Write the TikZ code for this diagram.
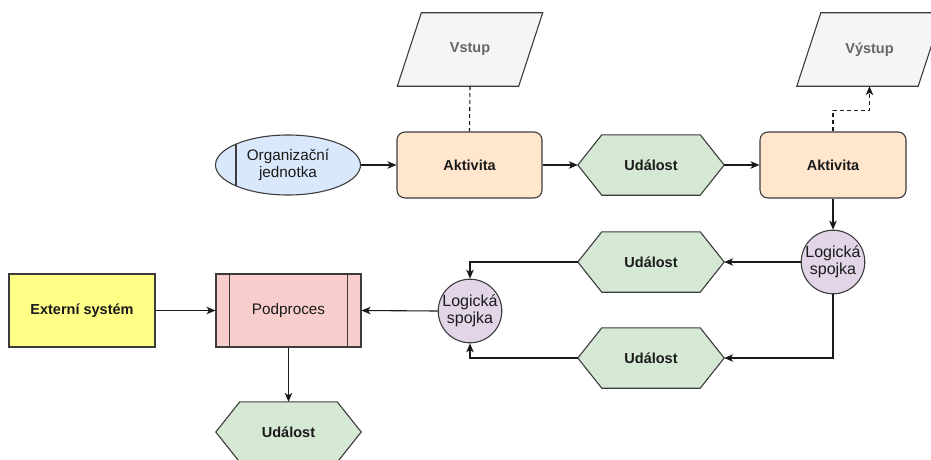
\documentclass[tikz,border=0pt]{standalone}
\usepackage{fontspec}
\setmainfont{Liberation Sans}
\usetikzlibrary{arrows.meta,backgrounds,shapes.geometric}

\definecolor{edge}{HTML}{3C3C3C}
\definecolor{txt}{HTML}{1A1A1A}
\definecolor{evtfill}{HTML}{D5E8D4}
\definecolor{actfill}{HTML}{FFE6CC}
\definecolor{orgfill}{HTML}{DAE8FC}
\definecolor{joinfill}{HTML}{E1D5E7}
\definecolor{subfill}{HTML}{F8CECC}
\definecolor{extfill}{HTML}{FFFF88}
\definecolor{iofill}{HTML}{F5F5F5}
\definecolor{iotxt}{HTML}{666666}

\tikzset{
  base/.style={inner sep=0pt, align=center, text=txt,
    font=\fontsize{15.3}{17}\selectfont},
  bold/.style={font=\fontsize{14.5}{17}\selectfont\bfseries},
  activity/.style={base, bold, draw=edge, line width=1.1pt, fill=actfill,
    rounded corners=8pt, minimum width=145pt, minimum height=66pt},
  evtlabel/.style={base, bold, minimum width=146pt, minimum height=60pt},
  evtshape/.style={draw=edge, line width=1.1pt, fill=evtfill},
  iolabel/.style={base, bold, text=iotxt, minimum width=97pt, minimum height=73pt},
  ioshape/.style={draw=edge, line width=1.1pt, fill=iofill},
  orgunit/.style={base, ellipse, draw=edge, line width=1.1pt, fill=orgfill,
    minimum width=145pt, minimum height=60pt},
  junction/.style={base, circle, draw=edge, line width=1.1pt, fill=joinfill,
    minimum size=62pt, font=\fontsize{16}{17}\selectfont},
  subproc/.style={base, draw=edge, line width=1.1pt, fill=subfill,
    minimum width=145pt, minimum height=73pt},
  extsys/.style={base, bold, draw=edge, line width=1.1pt, fill=extfill,
    minimum width=146pt, minimum height=73pt},
  flow/.style={draw=txt, line width=1.1pt,
    -{Stealth[length=9pt, width=7.5pt, inset=2.5pt]}},
  dataflow/.style={draw=txt, line width=1.1pt, dash pattern=on 4pt off 3pt},
}

\begin{document}
\begin{tikzpicture}[x=1pt, y=-1pt]
\useasboundingbox (0,0) rectangle (931,460);

% input / output documents
\node[iolabel] (vstup) at (470,49.5) {Vstup};
\node[iolabel] (vystup) at (869.5,49.5) {Výstup};

% top row
\node[orgunit] (org) at (288,165) {Organizační\\jednotka};
\node[activity] (akt1) at (469.5,165) {Aktivita};
\node[evtlabel] (ev1) at (651,165) {Událost};
\node[activity, minimum width=146pt] (akt2) at (833,165) {Aktivita};

% branching events
\node[junction] (lj1) at (833,262) {Logická\\spojka};
\node[evtlabel] (ev2) at (651,262) {Událost};
\node[evtlabel] (ev3) at (651,358) {Událost};
\node[junction, minimum size=61pt] (lj2) at (470,311) {Logická\\spojka};

% sub-process row
\node[subproc] (pod) at (288.5,310.5) {Podproces};
\node[extsys] (ext) at (82,310.5) {Externí systém};
\node[evtlabel, minimum width=145pt] (ev4) at (288.5,432) {Událost};

% divider lines inside the shapes
\draw[edge, line width=1.1pt] ([shift={(-52,-20.9)}]org.center) -- ([shift={(-52,20.9)}]org.center);
\draw[edge, line width=1.1pt] ([xshift=14pt]pod.north west) -- ([xshift=14pt]pod.south west);
\draw[edge, line width=1.1pt] ([xshift=-14pt]pod.north east) -- ([xshift=-14pt]pod.south east);

% connectors
\draw[flow] (org.east) -- (akt1.west);
\draw[flow] (akt1.east) -- (ev1.west);
\draw[flow] (ev1.east) -- (akt2.west);
\draw[flow] (akt2.south) -- (lj1.north);
\draw[flow] (lj1.west) -- (ev2.east);
\draw[flow] (lj1.south) |- (ev3.east);
\draw[flow] (ev2.west) -| (lj2.north);
\draw[flow] (ev3.west) -| (lj2.south);
\draw[flow] (lj2.west) -- (pod.east);
\draw[flow] (ext.east) -- (pod.west);
\draw[flow] (pod.south) -- (ev4.north);
\draw[dataflow] (vstup.south) -- (akt1.north);
\draw[dataflow, -{Stealth[length=9pt, width=7.5pt, inset=2.5pt]}]
  (akt2.north) -- ++(0,-21) -| (vystup.south);

% outlines of hexagons and parallelograms, behind the labels
\begin{scope}[on background layer]
  \fill[white] (0,0) rectangle (931,460);
  \foreach \n in {ev1,ev2,ev3,ev4}
    \draw[evtshape] (\n.west) -- ([xshift=24pt]\n.north west)
      -- ([xshift=-24pt]\n.north east) -- (\n.east)
      -- ([xshift=-24pt]\n.south east) -- ([xshift=24pt]\n.south west) -- cycle;
  \foreach \n in {vstup,vystup}
    \draw[ioshape] ([xshift=-24pt]\n.south west) -- (\n.north west)
      -- ([xshift=24pt]\n.north east) -- (\n.south east) -- cycle;
\end{scope}
\end{tikzpicture}
\end{document}
